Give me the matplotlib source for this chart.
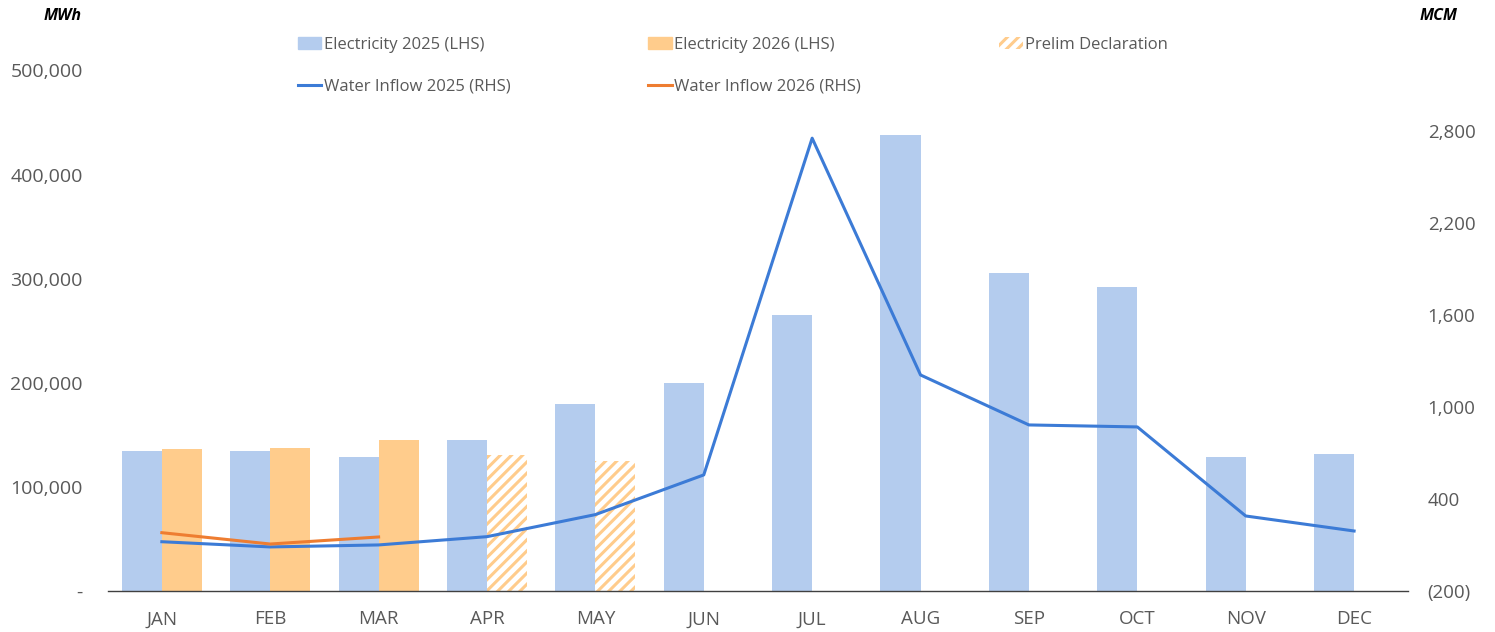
import matplotlib.pyplot as plt
from matplotlib.patches import Patch
from matplotlib.lines import Line2D
from matplotlib.ticker import FuncFormatter
import numpy as np

months = ['JAN', 'FEB', 'MAR', 'APR', 'MAY', 'JUN', 'JUL', 'AUG', 'SEP', 'OCT', 'NOV', 'DEC']
elec_2025 = [134500, 134500, 128500, 144500, 179500, 199500, 265000, 438000, 305500, 292000, 128500, 132000]
elec_2026 = [136000, 137000, 145000]
prelim_months = ['APR', 'MAY']
prelim_vals = [130500, 125000]
water_2025 = [121, 87, 100, 154, 298, 557, 2754, 1209, 883, 870, 289, 191]
water_2026 = [180, 106, 152]

c_e25 = '#B4CCEE'
c_e26 = '#FFCC8C'
c_w25 = '#3C7BD6'
c_w26 = '#EE7D31'
grey = '#595959'

plt.rcParams['font.family'] = ['Open Sans', 'DejaVu Sans']
plt.rcParams['hatch.linewidth'] = 2.2

fig = plt.figure(figsize=(14.95, 6.32), dpi=100)
ax = fig.add_axes([0.072, 0.065, 0.870, 0.873])
ax2 = ax.twinx()

x = np.arange(len(months))
w = 0.37
ax.bar(x - w / 2, elec_2025, width=w, color=c_e25)
ax.bar(x[:len(elec_2026)] + w / 2, elec_2026, width=w, color=c_e26)
px = np.array([months.index(m) for m in prelim_months])
ax.bar(px + w / 2, prelim_vals, width=w, facecolor='white', edgecolor=c_e26,
       hatch='///', linewidth=0)

ax2.plot(x, water_2025, color=c_w25, lw=2.2)
ax2.plot(x[:len(water_2026)], water_2026, color=c_w26, lw=2.2)

ax.set_xlim(-0.5, 11.5)
ax.set_ylim(0, 530000)
ax.set_yticks(range(0, 500001, 100000))
ax2.set_ylim(-200, 3400)
ax2.set_yticks(range(-200, 2801, 600))

ax.yaxis.set_major_formatter(FuncFormatter(lambda v, p: '-' if v == 0 else f'{v:,.0f}'))
ax2.yaxis.set_major_formatter(FuncFormatter(lambda v, p: f'({abs(v):,.0f})' if v < 0 else f'{v:,.0f}'))

ax.set_xticks(x)
ax.set_xticklabels(months)
for a in (ax, ax2):
    for s in ('top', 'left', 'right', 'bottom'):
        a.spines[s].set_visible(False)
ax.spines['bottom'].set_visible(True)
ax.spines['bottom'].set_color('#404040')
ax.spines['bottom'].set_linewidth(1.0)

ax.tick_params(axis='x', length=0, pad=14, labelsize=13.5, labelcolor=grey)
ax.tick_params(axis='y', length=0, pad=18, labelsize=14, labelcolor=grey)
ax2.tick_params(axis='y', length=0, pad=14, labelsize=13.5, labelcolor=grey)

fig.text(0.042, 0.975, 'MWh', fontsize=11.5, fontweight='bold', fontstyle='italic', ha='center', va='center')
fig.text(0.962, 0.975, 'MCM', fontsize=11.5, fontweight='bold', fontstyle='italic', ha='center', va='center')

handles = [
    Patch(color=c_e25), Line2D([], [], color=c_w25, lw=2.2),
    Patch(color=c_e26), Line2D([], [], color=c_w26, lw=2.2),
    Patch(facecolor='white', edgecolor=c_e26, hatch='///', linewidth=0),
]
labels = ['Electricity 2025 (LHS)', 'Water Inflow 2025 (RHS)',
          'Electricity 2026 (LHS)', 'Water Inflow 2026 (RHS)', 'Prelim Declaration']
leg = ax.legend(handles, labels, ncol=3, loc='upper left', bbox_to_anchor=(0.141, 1.016),
                frameon=False, fontsize=12, handlelength=1.4, handletextpad=0.15,
                columnspacing=8.3, labelspacing=1.52, borderaxespad=0)
for t in leg.get_texts():
    t.set_color(grey)

fig.savefig('out.png', dpi=100)
